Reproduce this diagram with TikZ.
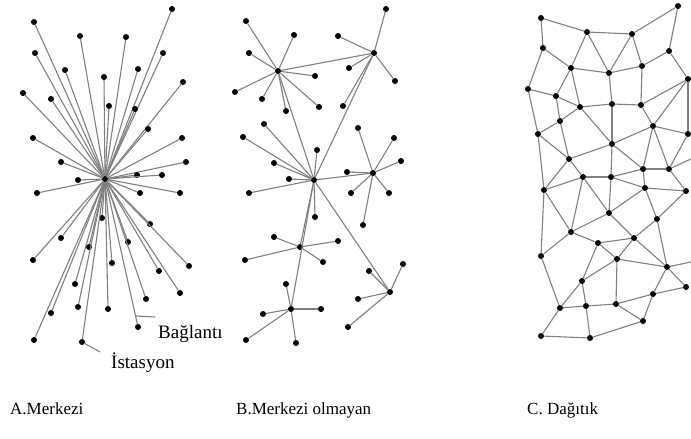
\documentclass[tikz,border=0pt]{standalone}
\usepackage{fontspec}
\setmainfont{Liberation Serif}

\begin{document}
\begin{tikzpicture}[x=1pt,y=-1pt,
    station/.style={circle,fill=black,inner sep=0pt,minimum size=6pt},
    link/.style={draw=black!50,line width=1.1pt},
    caption/.style={anchor=base west,inner sep=0pt,font=\fontsize{17}{19}\selectfont},
    tag/.style={anchor=west,inner sep=0pt,font=\fontsize{19}{21}\selectfont}]
  \useasboundingbox (0,0) rectangle (691,439);

  % A. centralized
  \node[station] (ac) at (105,179) {};
  \foreach \x/\y [count=\i] in {34/22,80/36,126/37,172/9,35/53,163/53,65/70,104/77,
      138/69,183/82,23/93,51/99,109/106,135/109,148/129,33/138,182/138,61/162,
      186/162,78/180,137/175,162/175,37/193,140/193,180/193,102/218,150/224,
      61/238,89/247,128/242,33/260,112/263,189/266,159/271,75/284,180/293,
      146/299,78/307,108/309,51/313,34/340}
  {
    \node[station] (a\i) at (\x,\y) {};
    \draw[link] (ac) -- (a\i);
  }
  \node[station] (alink) at (138,327) {};
  \node[station] (asta) at (82,342) {};
  \draw[link] (ac) -- (alink);
  \draw[link] (ac) -- (asta);

  \node[tag] (bag) at (158,334) {Bağlantı};
  \node[tag] (ist) at (111,363) {İstasyon};
  \coordinate (linkmark) at (136,316);
  \coordinate (bagmark) at (155,317);
  \coordinate (stamark) at (100,352);
  \draw[link] (linkmark) -- (bagmark);
  \draw[link] (asta) -- (stamark);

  % B. decentralized
  \node[station] (b1) at (278,71) {};
  \node[station] (b2) at (374,53) {};
  \node[station] (b3) at (314,180) {};
  \node[station] (b4) at (373,173) {};
  \node[station] (b5) at (300,247) {};
  \node[station] (b6) at (291,309) {};
  \node[station] (b7) at (390,292) {};
  \path[link] (b1) edge (b2) (b1) edge (b3) (b2) edge (b3)
    (b3) edge (b4) (b3) edge (b5) (b3) edge (b6) (b3) edge (b7);

  \foreach \hub/\leaves in {
      b1/{246/21,294/35,249/53,315/76,235/92,262/99,286/111,319/107},
      b2/{386/9,338/36,349/68,395/81,343/106},
      b3/{264/124,243/137,317/150,274/163,289/179,249/193,315/217},
      b4/{358/128,394/138,401/161,347/172,351/193,389/193,363/225},
      b5/{274/237,338/241,245/260,323/262},
      b6/{286/284,263/314,321/309,246/340,296/343},
      b7/{403/264,369/271,358/299,348/327}}
  {
    \foreach \x/\y [count=\i] in \leaves
    {
      \node[station] (\hub l\i) at (\x,\y) {};
      \draw[link] (\hub) -- (\hub l\i);
    }
  }

  % C. distributed
  \foreach \n/\x/\y in {c1/541/18,c2/678/6,c3/587/32,c4/632/34,c5/543/48,
      c6/669/51,c7/571/68,c8/609/73,c9/642/66,c10/688/79,c11/528/89,
      c12/556/96,c13/580/107,c14/612/104,c15/641/105,c16/560/121,
      c17/653/126,c18/538/134,c19/688/134,c20/612/144,c21/569/159,
      c22/643/169,c23/669/169,c24/583/177,c25/611/177,c26/544/190,
      c27/645/188,c28/686/191,d1/609/213,d2/657/219,d3/571/232,
      d4/598/243,d5/634/238,d6/541/256,d7/617/259,d8/667/267,
      d9/686/287,d10/582/281,d11/653/294,d12/560/308,d13/586/306,
      d14/616/304,d15/643/321,d16/541/336,d17/590/338}
    \node[station] (\n) at (\x,\y) {};
  \coordinate (cedge1) at (691,159);
  \coordinate (cedge2) at (691,262);

  \path[link]
    (c1) edge (c3) (c3) edge (c4) (c4) edge (c2) (c1) edge (c5) (c2) edge (c6)
    (c5) edge (c7) (c3) edge (c7) (c3) edge (c8) (c4) edge (c8) (c4) edge (c9)
    (c7) edge (c8) (c8) edge (c9) (c9) edge (c6) (c6) edge (c10) (c5) edge (c11)
    (c7) edge (c12) (c7) edge (c13) (c11) edge (c12) (c12) edge (c13)
    (c13) edge (c14) (c14) edge (c15) (c8) edge (c14) (c9) edge (c15)
    (c10) edge (c15) (c10) edge (c17) (c10) edge (c19)
    (c12) edge (c16) (c11) edge (c18) (c16) edge (c18) (c16) edge (c13)
    (c16) edge (c21) (c13) edge (c20) (c14) edge (c20) (c15) edge (c17)
    (c17) edge (c20) (c17) edge (c19) (c18) edge (c21) (c20) edge (c21)
    (c20) edge (c22) (c17) edge (c22) (c17) edge (c23) (c22) edge (c23)
    (c23) edge (cedge1) (c19) edge (c23) (c21) edge (c24) (c21) edge (c26)
    (c20) edge (c25) (c24) edge (c25) (c25) edge (c22) (c26) edge (c24)
    (c25) edge (c27) (c22) edge (c27) (c27) edge (c28) (c23) edge (c28)
    (c18) edge (c26)
    (c24) edge (d1) (c24) edge (d3) (c25) edge (d1) (d1) edge (c27)
    (c27) edge (d2) (c28) edge (d2) (c26) edge (d3) (c26) edge (d6)
    (d3) edge (d1) (d3) edge (d4) (d3) edge (d6) (d1) edge (d5) (d4) edge (d5)
    (d5) edge (d2) (d4) edge (d7) (d5) edge (d7) (d2) edge (d8) (d5) edge (d8)
    (d7) edge (d8) (d8) edge (cedge2) (d8) edge (d9)
    (d6) edge (d12) (d10) edge (d12) (d10) edge (d13) (d10) edge (d7)
    (d10) edge (d4) (d7) edge (d14) (d12) edge (d13) (d13) edge (d14)
    (d14) edge (d11) (d14) edge (d15) (d11) edge (d15) (d11) edge (d8)
    (d11) edge (d9) (d12) edge (d16) (d16) edge (d17) (d13) edge (d17)
    (d17) edge (d15);

  \node[caption] (capa) at (10,414) {A.Merkezi};
  \node[caption] (capb) at (236,414) {B.Merkezi olmayan};
  \node[caption] (capc) at (527,414) {C. Dağıtık};
\end{tikzpicture}
\end{document}
